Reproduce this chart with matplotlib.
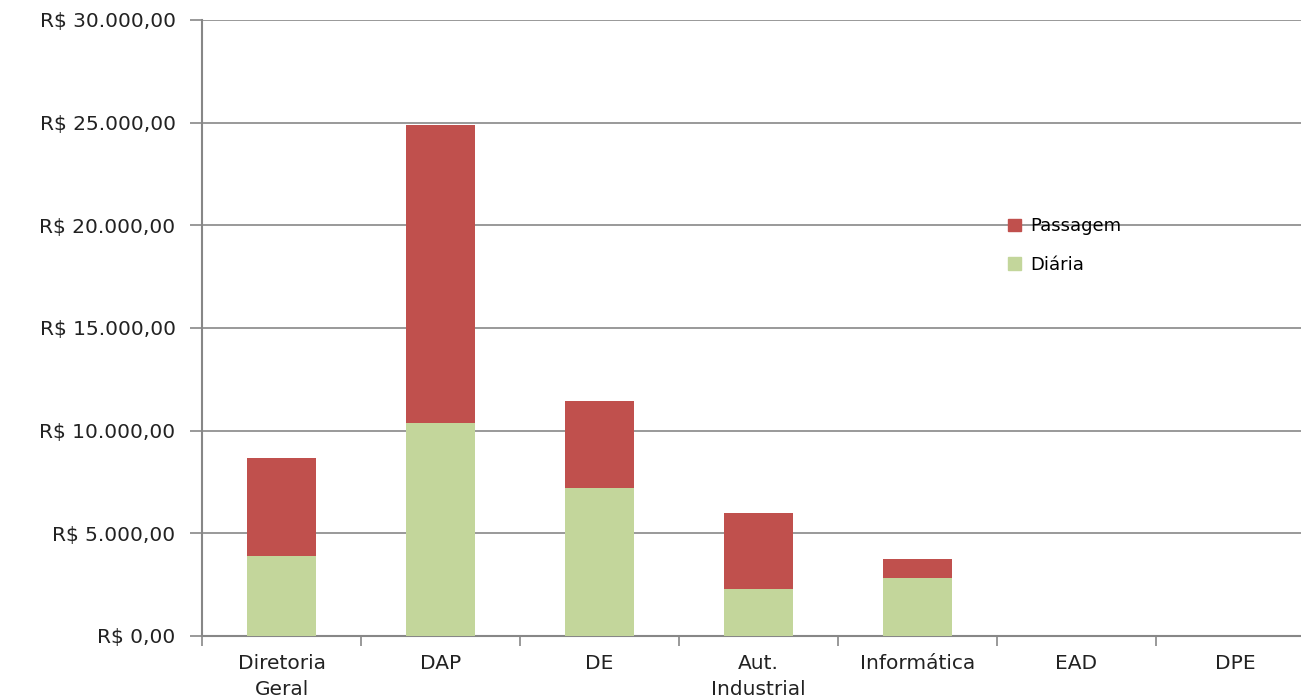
import numpy as np
import matplotlib.pyplot as plt
from matplotlib.patches import Patch

setores = ['Diretoria\nGeral', 'DAP', 'DE', 'Aut.\nIndustrial', 'Informática', 'EAD', 'DPE']
diaria = [3900, 10370, 7210, 2290, 2830, 0, 0]
passagem = [4770, 14520, 4240, 3700, 920, 0, 0]
y_ticks = [0, 5000, 10000, 15000, 20000, 25000, 30000]
y_labels = ['R$ 0,00', 'R$ 5.000,00', 'R$ 10.000,00', 'R$ 15.000,00',
            'R$ 20.000,00', 'R$ 25.000,00', 'R$ 30.000,00']

cor_diaria = '#C3D69B'
cor_passagem = '#C0504D'
cinza = '#878787'

fig = plt.figure(figsize=(13.01, 6.97), dpi=100)
# a área do gráfico passa um pouco da borda direita, como no original
ax = fig.add_axes([202/1301, 1 - 636/697, 1113/1301, 616/697])

x = np.arange(len(setores))
ax.bar(x, diaria, width=0.43, color=cor_diaria, zorder=3)
ax.bar(x, passagem, width=0.43, bottom=diaria, color=cor_passagem, zorder=3)

ax.set_xlim(-0.5, len(setores) - 0.5)
ax.set_ylim(0, 30000)
ax.set_yticks(y_ticks)
ax.set_yticklabels(y_labels, fontsize=14.5, color='#222222')
ax.yaxis.grid(True, color=cinza, linewidth=1.2, zorder=0)

# rótulos centrados, ticks entre as categorias
ax.set_xticks(x)
ax.set_xticklabels(setores, fontsize=14.5, color='#222222', linespacing=1.45)
ax.tick_params(axis='x', length=0, pad=13)
ax.set_xticks(np.arange(-0.5, len(setores)), minor=True)
ax.tick_params(axis='x', which='minor', length=7, width=1.2, color=cinza)
ax.tick_params(axis='y', length=9, width=1.2, color=cinza, pad=10)

for lado in ['top', 'right']:
    ax.spines[lado].set_visible(False)
for lado in ['left', 'bottom']:
    ax.spines[lado].set_color(cinza)
    ax.spines[lado].set_linewidth(1.5)

handles = [Patch(color=cor_passagem), Patch(color=cor_diaria)]
ax.legend(handles, ['Passagem', 'Diária'], loc='upper left',
          bbox_to_anchor=(992/1301, 1 - 201/697), bbox_transform=fig.transFigure,
          frameon=False, fontsize=13, handlelength=0.7, handleheight=0.7,
          handletextpad=0.5, labelspacing=1.15)

plt.savefig('out.png', dpi=100)
